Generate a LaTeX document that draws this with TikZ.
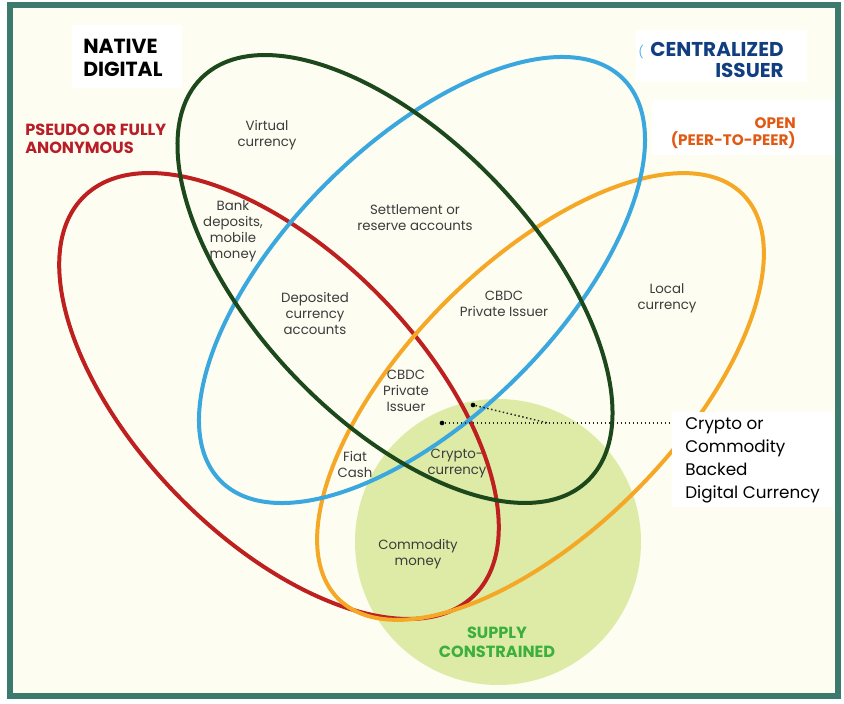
\documentclass[tikz,border=0pt]{standalone}
\usepackage{fontspec}
\setmainfont{Poppins}
\definecolor{frameteal}{RGB}{59,122,108}
\definecolor{cream}{RGB}{253,253,242}
\definecolor{cgreen}{RGB}{28,72,28}
\definecolor{cblue}{RGB}{58,168,222}
\definecolor{cred}{RGB}{190,32,32}
\definecolor{corange}{RGB}{245,168,38}
\definecolor{lime}{RGB}{221,235,166}
\definecolor{labelgray}{RGB}{60,60,60}
\definecolor{tred}{RGB}{185,30,40}
\definecolor{tblue}{RGB}{16,62,128}
\definecolor{lblue}{RGB}{90,180,230}
\definecolor{torange}{RGB}{225,90,20}
\definecolor{tgreen}{RGB}{60,175,60}
\begin{document}
\begin{tikzpicture}[x=0.75pt,y=0.75pt,
  lbl/.style={font=\fontsize{10pt}{12pt}\selectfont, text=labelgray, align=center, inner sep=0pt},
  head/.style={font=\bfseries, inner sep=0pt},
  ell/.style={line width=3pt},
  dotline/.style={line width=1.1pt, dash pattern=on 1.1pt off 1.9pt, draw=black!85},
  blackdot/.style={circle, fill=black, inner sep=0pt, minimum size=3.5pt}]
\useasboundingbox (0,0) rectangle (844,704);
\fill[white] (0,0) rectangle (844,704);
% frame
\fill[cream] (10,8) rectangle (838,699);
\draw[frameteal, line width=4.2pt] (10,8) rectangle (838,699);
% supply constrained circle
\fill[lime] (498,162) circle [radius=143];
% ellipses
\draw[ell, cred, rotate around={-45.7:(279,308)}] (279,308) ellipse [x radius=279, y radius=142];
\draw[ell, corange, rotate around={45:(540.5,307.5)}] (540.5,307.5) ellipse [x radius=286, y radius=134];
\draw[ell, cblue, rotate around={45:(422,424)}] (422,424) ellipse [x radius=284.5, y radius=136];
\draw[ell, cgreen, rotate around={-46.4:(395,425)}] (395,425) ellipse [x radius=279, y radius=140];
% white label boxes
\fill[white] (72,679) rectangle (182,616);
\fill[white] (636,674) rectangle (807,622);
\fill[white] (652,604) rectangle (835,549);
% headings
\node[head, anchor=west, align=left, font=\bfseries\fontsize{15.3pt}{17.3pt}\selectfont, text=black] (native) at (83,646) {NATIVE\\DIGITAL};
\node[head, anchor=west, align=left, font=\bfseries\fontsize{12.1pt}{13.5pt}\selectfont, text=tred] (pseudo) at (25,565.5) {PSEUDO OR FULLY\\ANONYMOUS};
\node[head, anchor=east, align=right, font=\bfseries\fontsize{15pt}{15.8pt}\selectfont, text=tblue] (central) at (784,644) {CENTRALIZED\\ISSUER};
\node[inner sep=0pt, font=\fontsize{9pt}{10pt}\selectfont, text=lblue] (paren) at (641,652) {(};
\node[head, anchor=east, align=right, font=\bfseries\fontsize{11.4pt}{12.8pt}\selectfont, text=torange] (open) at (796,570.5) {OPEN\\(PEER-TO-PEER)};
\node[head, align=center, font=\bfseries\fontsize{12.1pt}{14.2pt}\selectfont, text=tgreen] (supply) at (497,62) {SUPPLY\\CONSTRAINED};
% region labels
\node[lbl] (virtual) at (267,569) {Virtual\\currency};
\node[lbl] (bank) at (233,473) {Bank\\deposits,\\mobile\\money};
\node[lbl] (settle) at (415,486) {Settlement or\\reserve accounts};
\node[lbl] (deposited) at (315,391) {Deposited\\currency\\accounts};
\node[lbl] (cbdcr) at (504,400) {CBDC\\Private Issuer};
\node[lbl] (local) at (667,406) {Local\\currency};
\node[lbl] (cbdcm) at (406,313) {CBDC\\Private\\Issuer};
\node[lbl] (fiat) at (355,240) {Fiat\\Cash};
\node[lbl] (crypto) at (457,240) {Crypto-\\currency};
\node[lbl] (commodity) at (418,150) {Commodity\\money};
% callout connectors
\node[blackdot] (d1) at (473,299) {};
\node[blackdot] (d2) at (442,281) {};
\coordinate (join) at (548,281);
\coordinate (boxin) at (690,281);
\draw[dotline] (d1) -- (join);
\draw[dotline] (d2) -- (boxin);
% callout box
\fill[white] (672,292) rectangle (833,197);
\node[inner sep=0pt, anchor=north west, align=left, font=\fontsize{12.6pt}{17.25pt}\selectfont, text=black] (callout) at (685,287) {Crypto or\\Commodity\\Backed\\Digital Currency};
\end{tikzpicture}
\end{document}
